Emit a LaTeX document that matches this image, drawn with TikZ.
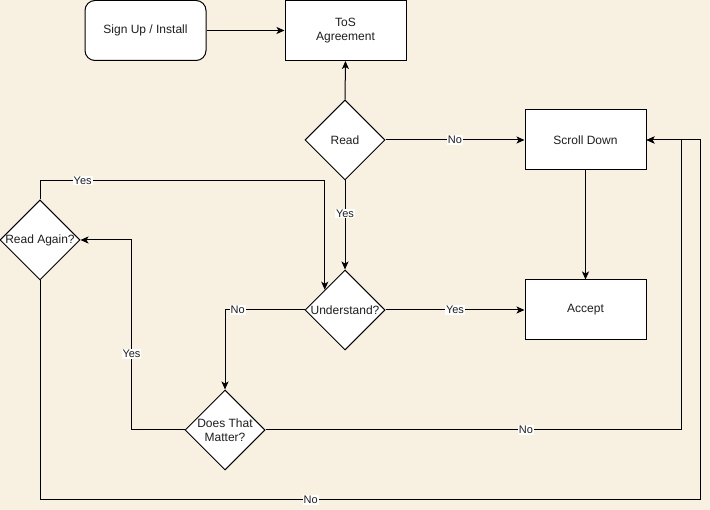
\documentclass[tikz,border=0pt]{standalone}
\usepackage{fontspec}
\setmainfont{Liberation Sans}
\usetikzlibrary{arrows.meta,shapes.geometric}
\definecolor{paper}{RGB}{248,241,226}
\definecolor{ink}{RGB}{30,30,30}
\begin{document}
\begin{tikzpicture}[x=1pt,y=-1pt,
  every node/.style={font=\fontsize{12}{14}\selectfont, text=ink},
  box/.style={draw=black, fill=white, line width=1pt, minimum width=121, minimum height=60, inner sep=0, align=center},
  rbox/.style={box, rounded corners=10pt},
  diam/.style={diamond, draw=black, fill=white, line width=1pt, minimum width=80, minimum height=80, inner sep=0},
  arr/.style={draw=black, line width=1pt, -{Stealth[length=8pt,width=7pt,inset=2pt]}},
  lbl/.style={fill=white, inner sep=1pt, font=\fontsize{11}{12}\selectfont}]
  \useasboundingbox (0,0) rectangle (710,510);
  \fill[paper] (0,0) rectangle (710,510);

  % process boxes
  \node[rbox] (su)  at (145.5,30.5) {Sign Up / Install};
  \node[box]  (tos) at (345.5,30.5) {ToS\\Agreement};
  \node[box]  (sd)  at (585.5,140)  {Scroll Down};
  \node[box]  (ac)  at (585.5,310)  {Accept};

  % decisions
  \node[diam, label={center:Read}]        (rd) at (345,140) {};
  \node[diam, label={center:Understand?}] (us) at (345,310) {};
  \node[diam, label={[align=center]center:Does That\\Matter?}] (dm) at (225,430) {};
  \node[diam, label={center:Read Again?}] (ra) at (40,240) {};

  % routing points
  \coordinate (j1) at (681,430);
  \coordinate (j2) at (700,500);

  % connectors
  \draw[arr] (su.east) -- (tos.west);
  \draw[arr] (rd.north) -- (tos.south);
  \draw[arr] (rd.east) -- node[lbl]{No} (sd.west);
  \draw[arr] (rd.south) -- node[lbl, pos=0.37]{Yes} (us.north);
  \draw[arr] (sd.south) -- (ac.north);
  \draw[arr] (us.east) -- node[lbl]{Yes} (ac.west);
  \draw[arr] (us.west) -| node[lbl, pos=0.42]{No} (dm.north);
  \draw[arr] (dm.west) -- ++(-53,0) |- node[lbl, pos=0.2]{Yes} (ra.east);
  \draw[arr] (dm.east) -- node[lbl, pos=0.627]{No} (j1) |- (sd.east);
  \draw[arr] (ra.north) -- ++(0,-19) -| node[lbl, pos=0.075]{Yes} (us.north west);
  \draw[arr] (ra.south) |- node[lbl, pos=0.705]{No} (j2) |- (sd.east);
\end{tikzpicture}
\end{document}
